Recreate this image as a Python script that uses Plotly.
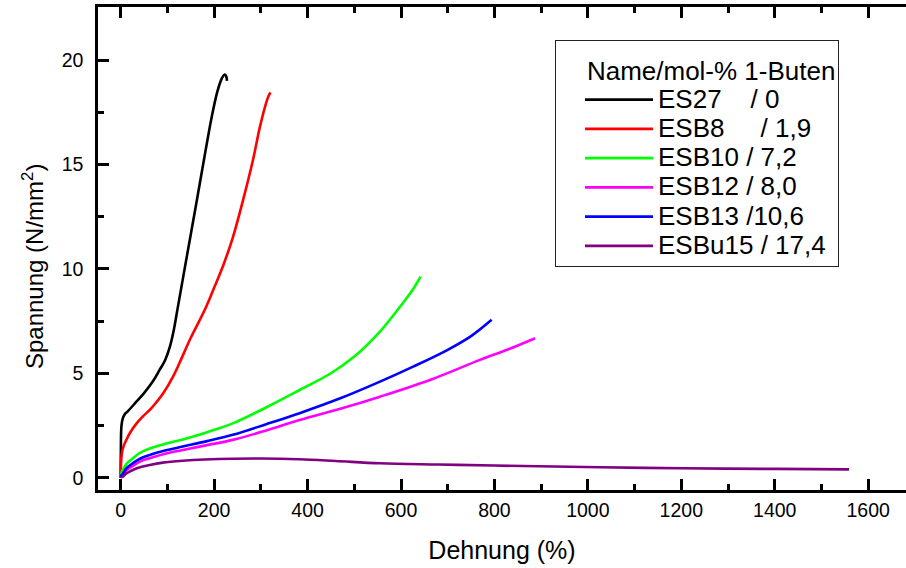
import plotly.graph_objects as go

# ---- data ----
names = ["ES27\u00a0\u00a0\u00a0\u00a0/ 0", "ESB8\u00a0\u00a0\u00a0\u00a0\u00a0/ 1,9", "ESB10 / 7,2",
         "ESB12 / 8,0", "ESB13 /10,6", "ESBu15 / 17,4"]
colors = ["#000000", "#FF0000", "#00FF00", "#FF00FF", "#0000FF", "#800080"]

es27_x = [0, 0.3, 1.5, 4, 9, 16, 30, 50, 70, 83, 95, 105, 113, 121, 140, 162, 180, 195, 207, 216, 222, 225.5, 227.5]
es27_y = [0, 1.2, 2.45, 2.8, 3.05, 3.2, 3.55, 4.05, 4.65, 5.15, 5.62, 6.25, 7.0, 8.0, 10.4, 13.15, 15.45, 17.3, 18.5, 19.1, 19.3, 19.25, 19.0]

esb8_x = [0, 0.5, 2, 6, 12, 20, 34, 48, 62, 76, 91, 112, 126, 150, 180, 201, 220, 240, 262, 283, 298, 312, 317, 320.5]
esb8_y = [0, 0.6, 1.1, 1.5, 1.8, 2.15, 2.6, 2.95, 3.24, 3.6, 4.04, 4.84, 5.5, 6.7, 8.04, 9.15, 10.2, 11.5, 13.3, 15.2, 16.8, 18.0, 18.3, 18.45]

esb10_x = [0, 1, 5, 12, 26, 42, 62, 95, 133, 185, 240, 310, 383, 450, 500, 555, 598, 625, 642]
esb10_y = [0, 0.2, 0.4, 0.65, 0.93, 1.2, 1.4, 1.62, 1.83, 2.18, 2.6, 3.35, 4.2, 5.0, 5.8, 7.0, 8.19, 9.0, 9.63]

esb12_x = [0, 1, 5, 12, 26, 42, 62, 95, 133, 185, 240, 310, 383, 470, 555, 662, 769, 830, 887]
esb12_y = [0, 0.05, 0.13, 0.35, 0.56, 0.78, 0.93, 1.15, 1.33, 1.56, 1.81, 2.25, 2.76, 3.3, 3.88, 4.68, 5.64, 6.15, 6.68]

esb13_x = [0, 1, 5, 12, 26, 42, 62, 95, 133, 185, 240, 310, 383, 470, 555, 626, 698, 750, 794]
esb13_y = [0, 0.1, 0.21, 0.45, 0.69, 0.92, 1.09, 1.3, 1.49, 1.75, 2.05, 2.55, 3.09, 3.8, 4.6, 5.32, 6.1, 6.78, 7.56]

esbu15_x = [0, 1, 5, 12, 26, 45, 62, 90, 133, 180, 240, 300, 383, 460, 555, 680, 800, 1026, 1200, 1400, 1559]
esbu15_y = [0, 0.02, 0.05, 0.2, 0.37, 0.52, 0.61, 0.72, 0.81, 0.87, 0.91, 0.92, 0.88, 0.8, 0.69, 0.63, 0.58, 0.5, 0.45, 0.42, 0.40]

x_ticks = [0, 200, 400, 600, 800, 1000, 1200, 1400, 1600]
y_ticks = [0, 5, 10, 15, 20]

series_x = [es27_x, esb8_x, esb10_x, esb12_x, esb13_x, esbu15_x]
series_y = [es27_y, esb8_y, esb10_y, esb12_y, esb13_y, esbu15_y]

FONT = "Liberation Sans, Arial, sans-serif"
LEG_PX = 26


def big(t):
    return '<span style="font-size:%gpx">%s</span>' % (LEG_PX, t)


fig = go.Figure()
for n, c, xs, ys in zip(names, colors, series_x, series_y):
    fig.add_trace(go.Scatter(x=xs, y=ys, mode="lines", name=big(n),
                             line=dict(color=c, width=2.6, shape="spline", smoothing=1.0)))

axis_common = dict(
    showline=True, linecolor="black", linewidth=2.5, showgrid=False, zeroline=False,
    ticks="inside", ticklen=11, tickwidth=2.5, tickcolor="black",
    tickfont=dict(family=FONT, size=19.5, color="black"),
    automargin=False,
)

fig.update_layout(
    template="none",
    width=906, height=568,
    margin=dict(l=98, r=0, t=7, b=78),
    paper_bgcolor="white", plot_bgcolor="white",
    font=dict(family=FONT, color="black"),
    xaxis=dict(range=[-48.6, 1681], tickvals=x_ticks, mirror="ticks",
               minor=dict(ticks="inside", ticklen=6, tickwidth=2.5, tickcolor="black",
                          dtick=100, tick0=0, showgrid=False),
               ticklabelstandoff=1,
               title=dict(text="Dehnung (%)", font=dict(family=FONT, size=25, color="black"),
                          standoff=22),
               **axis_common),
    yaxis=dict(range=[-0.59, 22.54], tickvals=y_ticks, mirror=False,
               minor=dict(ticks="inside", ticklen=6, tickwidth=2.5, tickcolor="black",
                          dtick=2.5, tick0=0, showgrid=False),
               ticklabelstandoff=8,
               **axis_common),
    annotations=[dict(text="Spannung (N/mm<sup>2</sup>)", textangle=-90,
                      xref="paper", yref="paper", x=-0.0804, y=0.4617,
                      xanchor="center", yanchor="middle", showarrow=False,
                      font=dict(family=FONT, size=24, color="black"))],
    legend=dict(x=0.5656, y=0.9317, xanchor="left", yanchor="top",
                bgcolor="white", bordercolor="#222222", borderwidth=1,
                font=dict(family=FONT, size=20.2, color="black"),
                title=dict(text=big("\u00a0\u00a0\u00a0\u00a0Name/mol-% 1-Buten"),
                           font=dict(family=FONT, size=30, color="black")),
                itemwidth=68, indentation=24, tracegroupgap=0),
    showlegend=True,
)

fig.write_html("out.html")
